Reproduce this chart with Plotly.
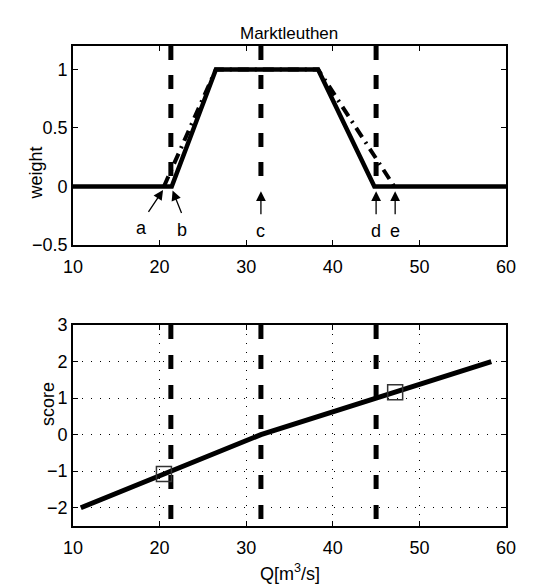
import plotly.graph_objects as go

# ---- data ----
title = "Marktleuthen"
thresholds = [21.3, 31.7, 45.0]          # b, c, d vertical dashed lines
solid_x = [10, 21.4, 26.5, 38.3, 44.8, 60]
solid_y = [0, 0, 1, 1, 0, 0]
dashdot_x = [20.5, 26.5, 38.3, 47.1]
dashdot_y = [0, 1, 1, 0]
score_x = [10.9, 21.3, 31.7, 45.0, 58.3]
score_y = [-2, -1, 0, 1, 2]
square_x = [20.5, 47.2]
square_y = [-1.08, 1.16]
# arrow annotations: label, tip (x,y), tail (x,y), label pos (x,y)
arrow_labels = ["a", "b", "c", "d", "e"]
arrow_tip_x = [20.4, 21.5, 31.7, 45.0, 47.2]
arrow_tip_y = [-0.03, -0.035, -0.04, -0.04, -0.04]
arrow_tail_x = [18.6, 22.6, 31.7, 45.0, 47.2]
arrow_tail_y = [-0.23, -0.24, -0.25, -0.25, -0.25]
label_x = [17.9, 22.6, 31.7, 45.0, 47.2]
label_y = [-0.355, -0.37, -0.38, -0.38, -0.38]
x_ticks = [10, 20, 30, 40, 50, 60]
top_yticks = [-0.5, 0, 0.5, 1]
top_yticklabels = ["\u22120.5", "0", "0.5", "1"]
bot_yticks = [-2, -1, 0, 1, 2, 3]
bot_yticklabels = ["\u22122", "\u22121", "0", "1", "2", "3"]

FONT = "Liberation Sans, Arial, Helvetica, sans-serif"
FS = 18

fig = go.Figure()

# top plot
for xv in thresholds:
    fig.add_trace(go.Scatter(x=[xv, xv], y=[1.2, 0], mode="lines",
                             line=dict(color="black", width=5, dash="14px,15px"),
                             xaxis="x", yaxis="y", showlegend=False, hoverinfo="skip"))
fig.add_trace(go.Scatter(x=dashdot_x, y=dashdot_y, mode="lines",
                         line=dict(color="black", width=4, dash="11px,6px,2px,6px"),
                         xaxis="x", yaxis="y", showlegend=False))
fig.add_trace(go.Scatter(x=solid_x, y=solid_y, mode="lines",
                         line=dict(color="black", width=4.5),
                         xaxis="x", yaxis="y", showlegend=False))

# bottom plot
for xv in thresholds:
    fig.add_trace(go.Scatter(x=[xv, xv], y=[3, -2.5], mode="lines",
                             line=dict(color="black", width=5, dash="14px,16px"),
                             xaxis="x2", yaxis="y2", showlegend=False, hoverinfo="skip"))
fig.add_trace(go.Scatter(x=score_x, y=score_y, mode="lines",
                         line=dict(color="black", width=5),
                         xaxis="x2", yaxis="y2", showlegend=False))
fig.add_trace(go.Scatter(x=square_x, y=square_y, mode="markers",
                         marker=dict(symbol="square-open", size=15,
                                     color="#333", line=dict(width=1.5, color="#333")),
                         xaxis="x2", yaxis="y2", showlegend=False))

xdom = [73 / 554, 506 / 554]
axis_common = dict(showline=True, linecolor="black", linewidth=1.6, mirror="allticks",
                   ticks="inside", ticklen=5, tickwidth=1, tickcolor="black",
                   zeroline=False, tickfont=dict(family=FONT, size=FS, color="black"),
                   automargin=False)

fig.update_layout(
    width=554, height=587,
    margin=dict(l=0, r=0, t=0, b=0),
    paper_bgcolor="white", plot_bgcolor="white",
    font=dict(family=FONT, size=FS, color="black"),
    xaxis=dict(domain=xdom, range=[10, 60], tickvals=x_ticks, showgrid=False,
               anchor="y", ticklabelstandoff=5, **axis_common),
    yaxis=dict(domain=[1 - 245 / 587, 1 - 46 / 587], range=[-0.5, 1.2],
               tickvals=top_yticks, ticktext=top_yticklabels, showgrid=False,
               anchor="x", **axis_common),
    xaxis2=dict(domain=xdom, range=[10, 60], tickvals=x_ticks, showgrid=True,
                gridcolor="black", gridwidth=1, griddash="1px,8px",
                anchor="y2", ticklabelstandoff=5, **axis_common),
    yaxis2=dict(domain=[1 - 526 / 587, 1 - 325 / 587], range=[-2.5, 3],
                tickvals=bot_yticks, ticktext=bot_yticklabels, showgrid=True,
                gridcolor="black", gridwidth=1, griddash="1px,8px",
                anchor="x2", **axis_common),
)

annots = []
for lab, tx, ty, sx, sy, lx, ly in zip(arrow_labels, arrow_tip_x, arrow_tip_y,
                                        arrow_tail_x, arrow_tail_y, label_x, label_y):
    annots.append(dict(x=tx, y=ty, ax=sx, ay=sy, xref="x", yref="y", axref="x", ayref="y",
                       showarrow=True, arrowhead=2, arrowsize=1.5, arrowwidth=1.3,
                       arrowcolor="black", text=""))
    annots.append(dict(x=lx, y=ly, xref="x", yref="y", text=lab, showarrow=False,
                       font=dict(family=FONT, size=FS, color="black")))

annots += [
    dict(x=289 / 554, y=1 - 22 / 587, xref="paper", yref="paper", text=title,
         showarrow=False, font=dict(family=FONT, size=17, color="black")),
    dict(x=24 / 554, y=1 - 145 / 587, xref="paper", yref="paper", text="weight",
         textangle=-90, showarrow=False, font=dict(family=FONT, size=FS, color="black")),
    dict(x=36 / 554, y=1 - 428 / 587, xref="paper", yref="paper", text="score",
         textangle=-90, showarrow=False, font=dict(family=FONT, size=FS, color="black")),
    dict(x=290 / 554, y=1 / 587, xref="paper", yref="paper", yanchor="bottom",
         text="Q[m<sup>3</sup>/s]",
         showarrow=False, font=dict(family=FONT, size=FS, color="black")),
]
fig.update_layout(annotations=annots)

fig.write_html("out.html")
